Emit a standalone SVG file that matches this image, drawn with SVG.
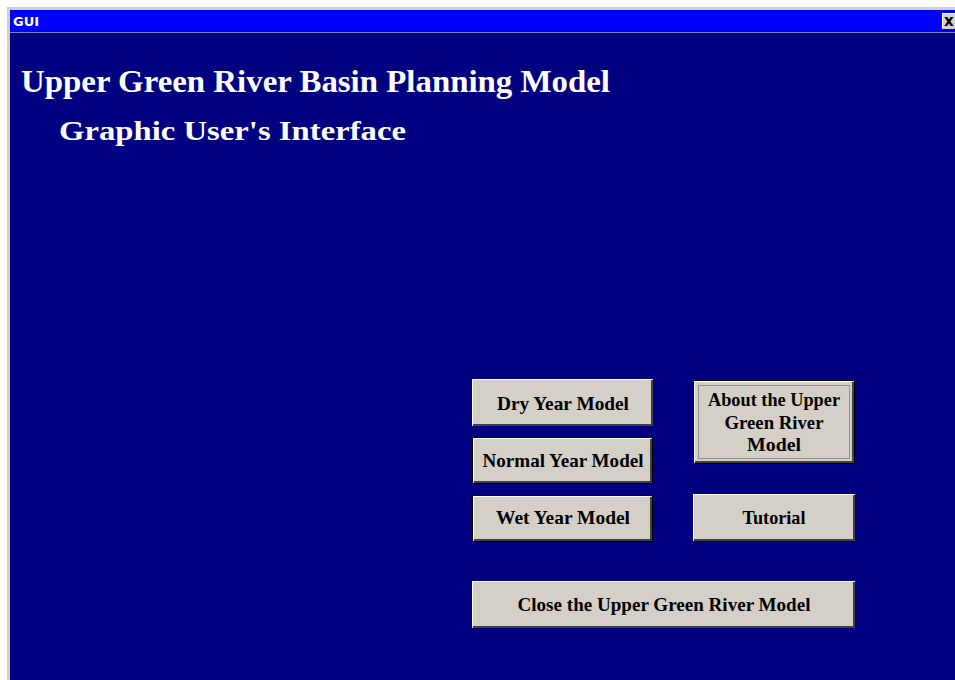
<svg xmlns="http://www.w3.org/2000/svg" width="955" height="680" viewBox="0 0 955 680">
  <style>
    .title { font-family: "Liberation Serif", "Times New Roman", serif; font-weight: bold; fill: #ffffff; }
    .btn-face { fill: #d4d0c8; }
    .btn-text { font-family: "Liberation Serif", "Times New Roman", serif; font-weight: bold; font-size: 19px; fill: #000000; text-anchor: middle; }
    .hi { stroke: #ffffff; stroke-width: 1; fill: none; }
    .sh { stroke: #404040; stroke-width: 2; fill: none; }
    .frame { stroke: #000000; stroke-width: 1; fill: none; }
  </style>

  <!-- window chrome -->
  <rect x="0" y="0" width="955" height="680" fill="#ffffff"/>
  <rect x="7" y="7" width="948" height="673" fill="#d4d0c8"/>
  <rect x="10" y="10" width="945" height="22" fill="#0000ff"/>
  <text x="13" y="26" font-family="DejaVu Sans, sans-serif" font-weight="bold" font-size="13" fill="#ffffff">GUI</text>
  <g id="close-box">
    <rect x="942" y="13" width="13" height="16" fill="#d4d0c8"/>
    <line x1="942" y1="13.5" x2="955" y2="13.5" stroke="#ffffff"/>
    <line x1="942.5" y1="13" x2="942.5" y2="29" stroke="#ffffff"/>
    <text x="944" y="26" font-family="DejaVu Sans, sans-serif" font-weight="bold" font-size="15" fill="#000000">x</text>
  </g>
  <rect x="10" y="32" width="945" height="648" fill="#000080"/>
  <line x1="10" y1="32.5" x2="955" y2="32.5" stroke="#8080c0"/>

  <!-- headings -->
  <text class="title" x="21" y="92" font-size="31" textLength="589" lengthAdjust="spacingAndGlyphs">Upper Green River Basin Planning Model</text>
  <text class="title" x="59" y="140" font-size="28" textLength="347" lengthAdjust="spacingAndGlyphs">Graphic User's Interface</text>

  <!-- buttons -->
  <g id="btn-dry">
    <rect class="btn-face" x="472" y="379" width="181" height="47"/>
    <polyline class="hi" points="472.5,425 472.5,379.5 652,379.5"/>
    <polyline class="sh" points="473,425 652,425 652,380"/>
    <text class="btn-text" x="563" y="410" textLength="132" lengthAdjust="spacingAndGlyphs">Dry Year Model</text>
  </g>
  <g id="btn-normal">
    <rect class="btn-face" x="472" y="437" width="181" height="47"/>
    <rect class="frame" x="472.5" y="437.5" width="180" height="46"/>
    <polyline class="hi" points="473.5,482 473.5,438.5 651,438.5"/>
    <polyline class="sh" points="474,482 651,482 651,439"/>
    <text class="btn-text" x="563" y="467" textLength="161" lengthAdjust="spacingAndGlyphs">Normal Year Model</text>
  </g>
  <g id="btn-wet">
    <rect class="btn-face" x="472" y="495" width="181" height="47"/>
    <rect class="frame" x="472.5" y="495.5" width="180" height="46"/>
    <polyline class="hi" points="473.5,540 473.5,496.5 651,496.5"/>
    <polyline class="sh" points="474,540 651,540 651,497"/>
    <text class="btn-text" x="563" y="524" textLength="134" lengthAdjust="spacingAndGlyphs">Wet Year Model</text>
  </g>
  <g id="btn-about">
    <rect class="btn-face" x="693" y="380" width="162" height="84"/>
    <rect class="frame" x="693.5" y="380.5" width="161" height="83"/>
    <polyline class="hi" points="694.5,462 694.5,381.5 853,381.5"/>
    <polyline class="sh" points="695,462 853,462 853,382"/>
    <rect x="698.5" y="385.5" width="151" height="73" fill="none" stroke="#505050" stroke-width="1" stroke-dasharray="1,1"/>
    <text class="btn-text" x="774" y="406" textLength="132" lengthAdjust="spacingAndGlyphs">About the Upper</text>
    <text class="btn-text" x="774" y="429" textLength="99" lengthAdjust="spacingAndGlyphs">Green River</text>
    <text class="btn-text" x="774" y="451" textLength="54" lengthAdjust="spacingAndGlyphs">Model</text>
  </g>
  <g id="btn-tutorial">
    <rect class="btn-face" x="693" y="494" width="162" height="47"/>
    <polyline class="hi" points="693.5,540 693.5,494.5 854,494.5"/>
    <polyline class="sh" points="694,540 854,540 854,495"/>
    <text class="btn-text" x="774" y="524" textLength="63" lengthAdjust="spacingAndGlyphs">Tutorial</text>
  </g>
  <g id="btn-close">
    <rect class="btn-face" x="472" y="581" width="383" height="47"/>
    <polyline class="hi" points="472.5,627 472.5,581.5 854,581.5"/>
    <polyline class="sh" points="473,627 854,627 854,582"/>
    <text class="btn-text" x="664" y="611" textLength="293" lengthAdjust="spacingAndGlyphs">Close the Upper Green River Model</text>
  </g>
</svg>
